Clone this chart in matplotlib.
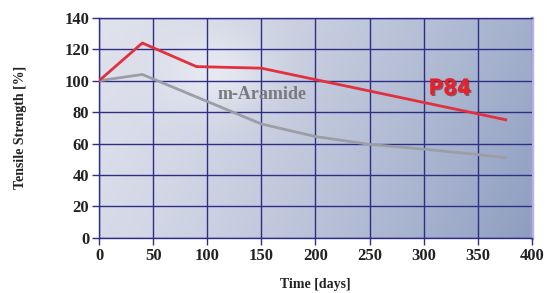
import matplotlib
matplotlib.use("Agg")
import matplotlib.pyplot as plt
import numpy as np
import matplotlib.patheffects as pe

# data
p84_days = [0, 40, 90, 150, 377]
p84_strength = [100, 124, 109, 108, 75]

aramide_days = [0, 40, 150, 200, 250, 300, 350, 377]
aramide_strength = [100, 104, 72.5, 64.5, 59.5, 56.5, 53, 51]

x_ticks = [0, 50, 100, 150, 200, 250, 300, 350, 400]
y_ticks = [0, 20, 40, 60, 80, 100, 120, 140]

GRID = "#2e2e86"
SERIF = "Liberation Serif"


def background(ax):
    # soft blue gradient with a faint glow near the upper left
    ny, nx = 120, 220
    u = np.linspace(0, 1, nx)[None, :]
    v = np.linspace(0, 1, ny)[:, None]  # 0 = top
    tl = np.array([224, 226, 236]) / 255
    tr = np.array([163, 176, 204]) / 255
    bl = np.array([214, 218, 232]) / 255
    br = np.array([142, 157, 192]) / 255
    w = u ** 1.3
    img = ((1 - w) * (1 - v))[..., None] * tl + (w * (1 - v))[..., None] * tr \
        + ((1 - w) * v)[..., None] * bl + (w * v)[..., None] * br
    glow = np.exp(-(((u - 0.27) / 0.12) ** 2 + ((v - 0.25) / 0.18) ** 2))
    img = img + (1 - img) * 0.45 * glow[..., None]
    ax.imshow(np.clip(img, 0, 1), extent=(0, 1, 0, 1), transform=ax.transAxes,
              aspect="auto", zorder=0, interpolation="bilinear")


fig = plt.figure(figsize=(5.47, 2.93), dpi=100)
ax = fig.add_axes([0.181, 0.188, 0.7915, 0.751])
background(ax)

ax.plot(aramide_days, aramide_strength, color="#9c9ea6", lw=2.0, zorder=3,
        solid_capstyle="butt")
ax.plot(p84_days, p84_strength, color="#e2303e", lw=2.0, zorder=4,
        solid_capstyle="butt")

ax.text(151, 91, "m-Aramide", color="#7a7a7e", fontsize=13, fontweight="bold",
        family=SERIF, ha="center", va="center", zorder=5)
ax.text(324, 95, "P84", color="#e8202a", fontsize=16, fontweight="heavy",
        family="DejaVu Sans", ha="center", va="center", zorder=5,
        fontstretch="condensed",
        path_effects=[pe.withSimplePatchShadow(offset=(1, -1), shadow_rgbFace="#801018",
                                               alpha=0.6)])

ax.set_xlim(0, 400)
ax.set_ylim(0, 140)
ax.set_xticks(x_ticks)
ax.set_yticks(y_ticks)
ax.grid(True, color=GRID, lw=1.0, zorder=2)
ax.set_axisbelow(False)
for s in ax.spines.values():
    s.set_color(GRID)
    s.set_linewidth(1.0)
ax.spines["right"].set_color("#b4b4e0")
ax.spines["right"].set_linewidth(2.5)
ax.tick_params(direction="out", length=5, color=GRID, width=1.0, pad=2)
for lab in ax.get_xticklabels() + ax.get_yticklabels():
    lab.set_family(SERIF)
    lab.set_fontweight("bold")
    lab.set_fontsize(12)
    lab.set_color("#222222")

ax.set_xlabel("Time [days]", family=SERIF, fontweight="bold", fontsize=10,
              color="#222222", labelpad=10)
ax.set_ylabel("Tensile Strength [%]", family=SERIF, fontweight="bold", fontsize=10,
              color="#222222", labelpad=27)

fig.savefig("out.png", dpi=100)
